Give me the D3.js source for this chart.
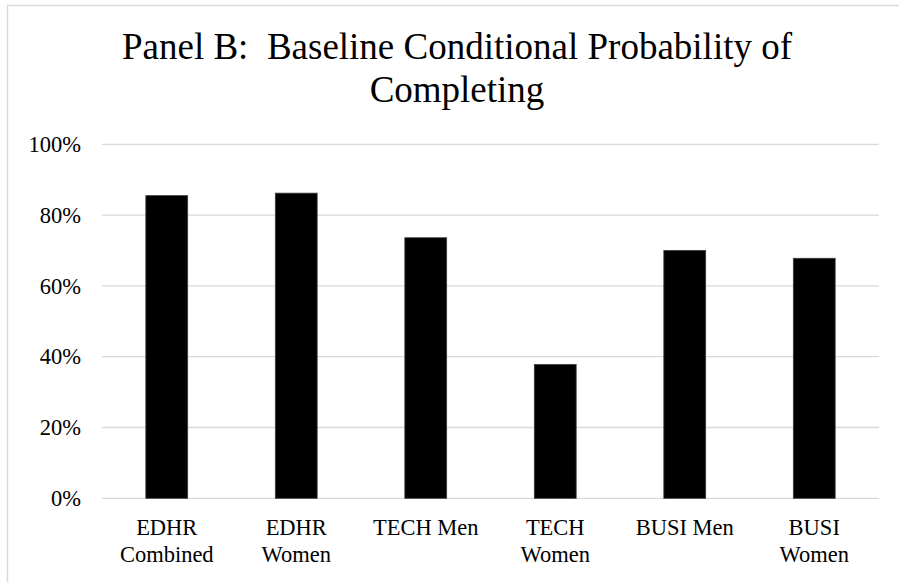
<!DOCTYPE html>
<html>
<head>
<meta charset="utf-8">
<script src="https://cdn.jsdelivr.net/npm/d3@7"></script>
<style>
  html, body { margin: 0; padding: 0; background: #fff; }
  svg { display: block; }
  text { font-family: "Liberation Serif", "Times New Roman", serif; fill: #000; }
</style>
</head>
<body>
<svg id="chart" width="899" height="582"></svg>
<script>
const categories = [["EDHR", "Combined"], ["EDHR", "Women"], ["TECH Men"], ["TECH", "Women"], ["BUSI Men"], ["BUSI", "Women"]];
const values = [0.855, 0.862, 0.736, 0.378, 0.70, 0.678];
const yTicks = [0, 0.2, 0.4, 0.6, 0.8, 1.0];
const titleLines = ["Panel B:  Baseline Conditional Probability of", "Completing"];

const svg = d3.select("#chart");
const W = 899, H = 582;
const margin = { left: 102, right: 20, top: 144.3, bottom: 83.7 };
const plotRight = W - margin.right;
const plotBottom = H - margin.bottom;

// chart frame (cropped on right/bottom)
svg.append("rect")
  .attr("x", 7.5).attr("y", 5.5)
  .attr("width", W + 10).attr("height", H + 10)
  .attr("fill", "#fff").attr("stroke", "#d9d9d9").attr("stroke-width", 1.5);

const x = d3.scaleBand()
  .domain(d3.range(categories.length))
  .range([margin.left, plotRight])
  .paddingInner(0.677)
  .paddingOuter(0.3385);

const y = d3.scaleLinear().domain([0, 1]).range([plotBottom, margin.top]);

// gridlines
svg.append("g")
  .selectAll("line")
  .data(yTicks)
  .join("line")
  .attr("x1", margin.left).attr("x2", plotRight)
  .attr("y1", d => y(d)).attr("y2", d => y(d))
  .attr("stroke", "#d9d9d9").attr("stroke-width", 1.3);

// y axis labels
const yAxis = d3.axisLeft(y).tickValues(yTicks).tickFormat(d3.format(".0%")).tickSize(0).tickPadding(21);
const yg = svg.append("g").attr("transform", `translate(${margin.left},0)`).call(yAxis);
yg.select(".domain").remove();
yg.selectAll("text")
  .attr("font-size", 22.5)
  .attr("font-family", "'Liberation Serif', 'Times New Roman', serif")
  .attr("fill", "#000");

// bars
svg.append("g")
  .selectAll("rect")
  .data(values)
  .join("rect")
  .attr("x", (d, i) => x(i))
  .attr("width", x.bandwidth())
  .attr("y", d => y(d))
  .attr("height", d => y(0) - y(d))
  .attr("fill", "#000")
  .attr("stroke", "#3a3a3a")
  .attr("stroke-width", 0.8);

// x category labels
const xl = svg.append("g");
categories.forEach((lines, i) => {
  const t = xl.append("text")
    .attr("x", x(i) + x.bandwidth() / 2)
    .attr("y", 535)
    .attr("text-anchor", "middle")
    .attr("font-size", 22.5);
  lines.forEach((ln, j) => {
    t.append("tspan")
      .attr("x", x(i) + x.bandwidth() / 2)
      .attr("dy", j === 0 ? 0 : 26.7)
      .text(ln);
  });
});

// title
const tx = 457;
const tt = svg.append("text")
  .attr("x", tx)
  .attr("y", 59.3)
  .attr("text-anchor", "middle")
  .style("white-space", "pre")
  .attr("xml:space", "preserve")
  .attr("font-size", 37);
titleLines.forEach((ln, j) => {
  tt.append("tspan")
    .attr("x", tx)
    .attr("dy", j === 0 ? 0 : 43)
    .text(ln);
});
</script>
</body>
</html>
